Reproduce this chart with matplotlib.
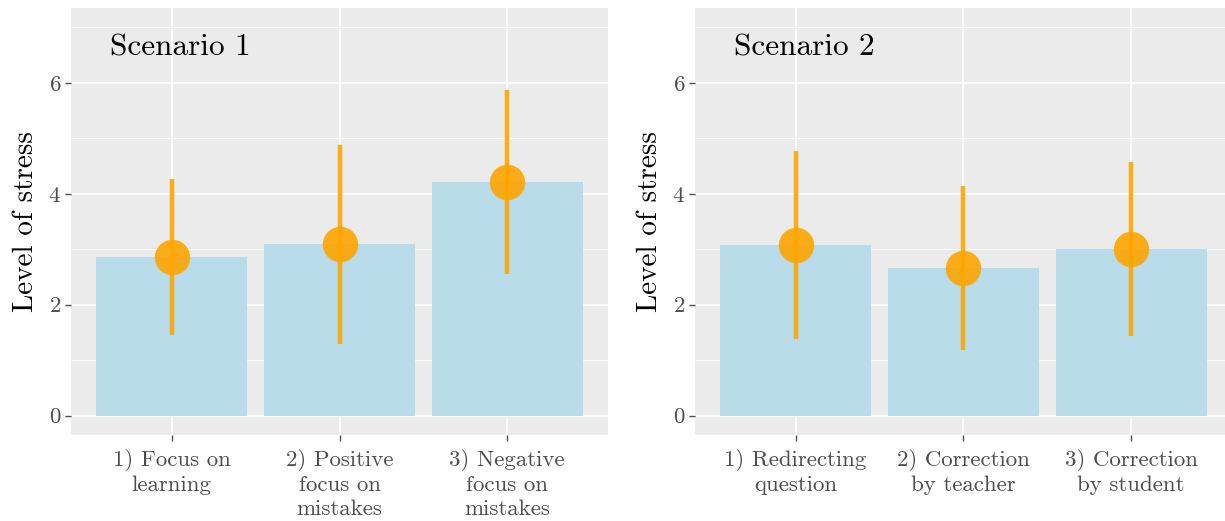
import matplotlib
matplotlib.use('Agg')
import matplotlib.pyplot as plt
from matplotlib.ticker import MultipleLocator

# 数据：两个场景的平均压力值与标准差
labels_s1 = ["1) Focus on\nlearning", "2) Positive\nfocus on\nmistakes", "3) Negative\nfocus on\nmistakes"]
means_s1 = [2.86, 3.09, 4.21]
sd_s1 = [1.40, 1.79, 1.66]

labels_s2 = ["1) Redirecting\nquestion", "2) Correction\nby teacher", "3) Correction\nby student"]
means_s2 = [3.08, 2.66, 3.00]
sd_s2 = [1.70, 1.48, 1.57]

titles = ["Scenario 1", "Scenario 2"]

plt.rcParams['font.family'] = ['cmr10', 'DejaVu Serif']
plt.rcParams['axes.formatter.use_mathtext'] = True

BAR = "#b9dcea"
ORANGE = "#ffa500"
GREY = "#4d4d4d"


def draw_panel(ax, labels, means, sds, title):
    x = list(range(1, len(labels) + 1))
    ax.set_facecolor("#ebebeb")
    ax.bar(x, means, width=0.9, color=BAR, zorder=2)
    lo = [m - s for m, s in zip(means, sds)]
    hi = [m + s for m, s in zip(means, sds)]
    ax.vlines(x, lo, hi, color=ORANGE, lw=3.2, alpha=0.9, zorder=3)
    ax.plot(x, means, 'o', color=ORANGE, ms=25.5, alpha=0.9, mew=0, zorder=4)

    ax.set_xlim(0.4, len(labels) + 0.6)
    ax.set_ylim(-0.35, 7.35)
    ax.set_xticks(x)
    ax.set_xticklabels(labels, fontsize=16.5, color=GREY, linespacing=1.27)
    ax.yaxis.set_major_locator(MultipleLocator(2))
    ax.yaxis.set_minor_locator(MultipleLocator(1))
    ax.tick_params(axis='both', which='major', labelsize=16.5, labelcolor=GREY,
                   color=GREY, length=4, width=1.0, pad=3)
    ax.tick_params(axis='x', which='major', pad=6)
    ax.tick_params(axis='y', which='minor', length=0)
    ax.grid(which='major', color='white', lw=1.2, zorder=1)
    ax.grid(which='minor', axis='y', color='white', lw=0.6, zorder=1)
    ax.set_axisbelow(True)
    for sp in ax.spines.values():
        sp.set_visible(False)
    ax.set_ylabel("Level of stress", fontsize=21, labelpad=7)
    ax.text(0.072, 0.908, title, transform=ax.transAxes, fontsize=22.5,
            ha='left', va='center', zorder=5)


fig = plt.figure(figsize=(12.25, 5.21), dpi=100)
ax1 = fig.add_axes([0.058, 0.165, 0.4383, 0.8196])
ax2 = fig.add_axes([0.5673, 0.165, 0.4383, 0.8196])

draw_panel(ax1, labels_s1, means_s1, sd_s1, titles[0])
draw_panel(ax2, labels_s2, means_s2, sd_s2, titles[1])

fig.savefig("out.png", dpi=100)
